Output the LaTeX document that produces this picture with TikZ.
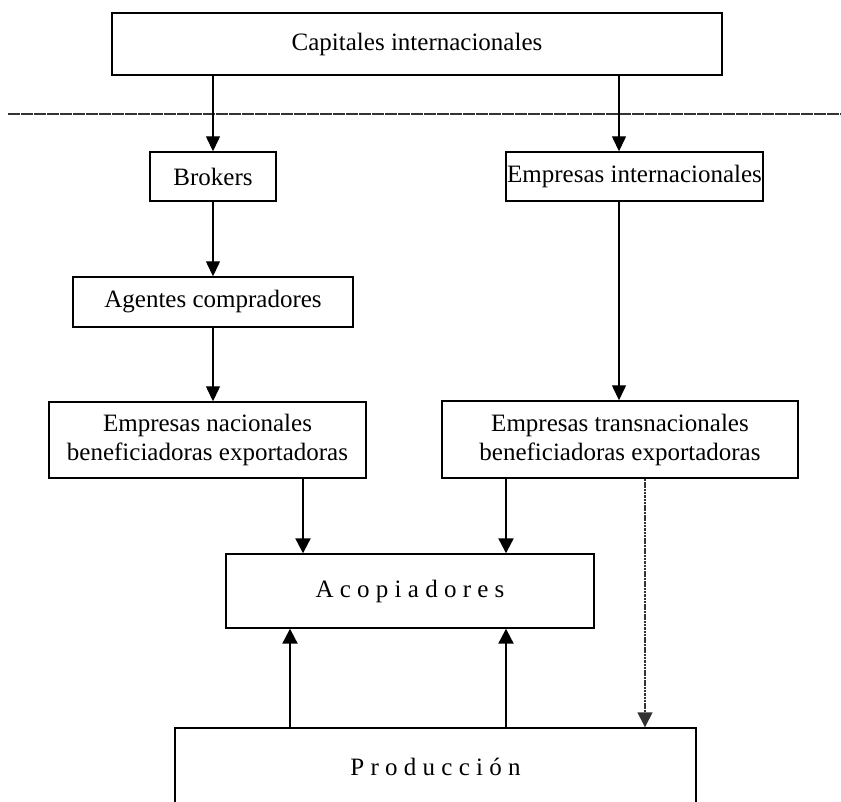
\documentclass[tikz,border=0pt]{standalone}
\usepackage{fontspec}
\setmainfont{Liberation Serif}
\usetikzlibrary{arrows.meta}
\begin{document}
\begin{tikzpicture}[x=1pt,y=-1pt,
  box/.style={draw, line width=1.4pt, inner sep=0pt, align=center, font=\fontsize{25}{29}\selectfont},
  arr/.style={line width=1.3pt, -{Triangle[length=15pt,width=14pt]}},
  arrb/.style={line width=2.2pt, -{Triangle[length=15pt,width=15pt]}},
  dotarr/.style={line width=1.4pt, dash pattern=on 2.5pt off 0.8pt, black!80, -{Triangle[length=15pt,width=15pt]}},
  sepline/.style={line width=1.1pt, dash pattern=on 12pt off 1pt, black!80}
]
\useasboundingbox (0,0) rectangle (841,802);
\clip (0,0) rectangle (841,802);

\node[box, minimum width=610pt, minimum height=62pt] (cap) at (417,44) {Capitales internacionales};
\node[box, minimum width=126pt, minimum height=49pt] (brk) at (213,176.5) {Brokers};
\node[box, minimum width=257pt, minimum height=49pt] (ei) at (634.5,176.5) {Empresas internacionales};
\node[box, minimum width=280pt, minimum height=50pt] (ag) at (213,302) {Agentes compradores};
\node[box, minimum width=317pt, minimum height=76pt] (en) at (207.5,440) {Empresas nacionales\\beneficiadoras exportadoras};
\node[box, minimum width=356pt, minimum height=77pt] (et) at (620,439.5) {Empresas transnacionales\\beneficiadoras exportadoras};
\node[box, minimum width=368pt, minimum height=74pt] (aco) at (410,591) {A c o p i a d o r e s};
\node[box, minimum width=521pt, minimum height=78pt] (pro) at (435.5,767) {P r o d u c c i ó n};

\coordinate (sl) at (8,114);
\coordinate (sr) at (841,114);
\draw[sepline] (sl) -- (sr);

\coordinate (xa) at (213,0);
\coordinate (xb) at (619,0);
\coordinate (xc) at (303,0);
\coordinate (xd) at (506,0);
\coordinate (xe) at (290,0);
\coordinate (xf) at (645,0);

\draw[arr] (cap.south -| xa) -- (brk.north -| xa);
\draw[arr] (cap.south -| xb) -- (ei.north -| xb);
\draw[arr] (brk.south -| xa) -- (ag.north -| xa);
\draw[arr] (ag.south -| xa) -- (en.north -| xa);
\draw[arr] (ei.south -| xb) -- (et.north -| xb);
\draw[arrb] (en.south -| xc) -- (aco.north -| xc);
\draw[arrb] (et.south -| xd) -- (aco.north -| xd);
\draw[arrb] (pro.north -| xe) -- (aco.south -| xe);
\draw[arrb] (pro.north -| xd) -- (aco.south -| xd);
\draw[dotarr] (et.south -| xf) -- (pro.north -| xf);
\end{tikzpicture}
\end{document}
